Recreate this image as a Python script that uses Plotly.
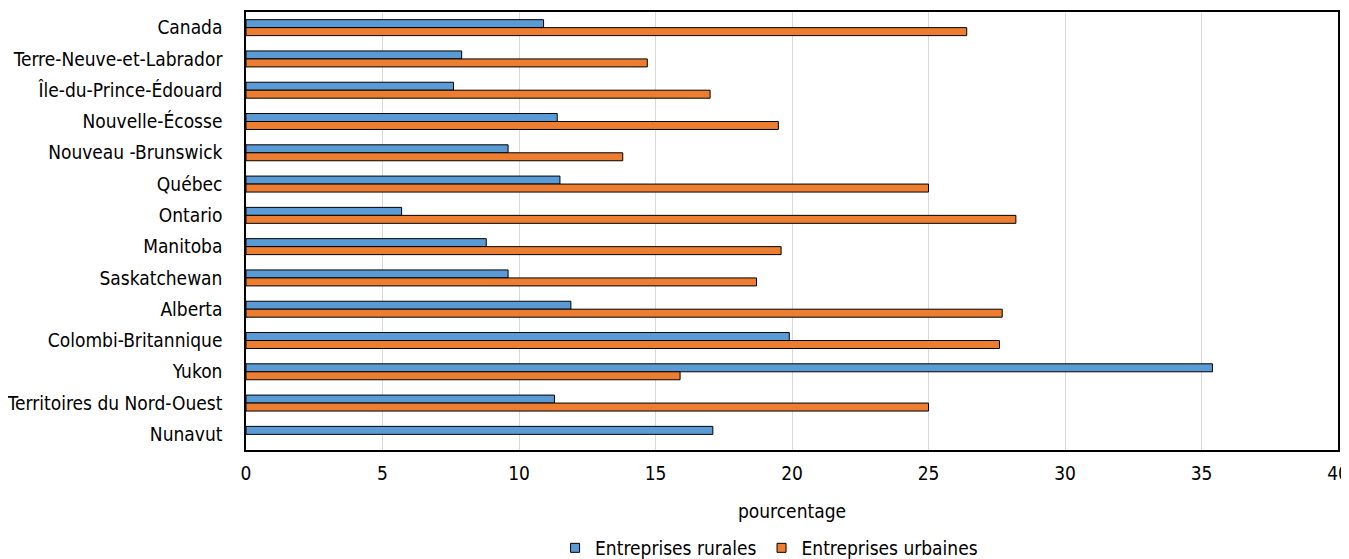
import plotly.graph_objects as go

categories = ["Canada", "Terre-Neuve-et-Labrador", "Île-du-Prince-Édouard", "Nouvelle-Écosse",
              "Nouveau -Brunswick", "Québec", "Ontario", "Manitoba", "Saskatchewan", "Alberta",
              "Colombi-Britannique", "Yukon", "Territoires du Nord-Ouest", "Nunavut"]
rural = [10.9, 7.9, 7.6, 11.4, 9.6, 11.5, 5.7, 8.8, 9.6, 11.9, 19.9, 35.4, 11.3, 17.1]
urbain = [26.4, 14.7, 17.0, 19.5, 13.8, 25.0, 28.2, 19.6, 18.7, 27.7, 27.6, 15.9, 25.0, None]
x_ticks = [0, 5, 10, 15, 20, 25, 30, 35, 40]
series_names = ["Entreprises rurales", "Entreprises urbaines"]
colors = ["#5B9BD5", "#ED7D31"]

FONT = "DejaVu Sans Condensed"
FS = 19

def f(size=FS):
    return dict(family=FONT, size=size, color="#000000")

fig = go.Figure()
for name, vals, col in zip(series_names, [rural, urbain], colors):
    fig.add_trace(go.Bar(
        y=categories, x=vals, orientation="h", name=name,
        marker=dict(color=col, line=dict(color="#000000", width=1)),
        showlegend=False,
    ))
# legend proxies with small square symbols
for name, col in zip(series_names, colors):
    fig.add_trace(go.Scatter(
        x=[None], y=[None], mode="markers", name=name,
        marker=dict(symbol="square", size=9, color=col, line=dict(color="#000000", width=1)),
        showlegend=True,
    ))

# page body has an 8px default margin, so the figure is sized to fit the window
fig.update_layout(
    width=1341, height=551,
    margin=dict(l=237.5, r=10.5, t=3.7, b=109),
    paper_bgcolor="white", plot_bgcolor="white",
    barmode="group", bargap=0.49, bargroupgap=0,
    font=f(),
    legend=dict(orientation="h", x=0.479, xanchor="center", xref="paper",
                y=0.02, yanchor="middle", yref="container",
                font=f(), itemwidth=30, tracegroupgap=0),
)
fig.update_xaxes(
    range=[0, 40], tickvals=x_ticks, ticktext=[str(v) for v in x_ticks],
    showgrid=True, gridcolor="#D9D9D9", gridwidth=1,
    showline=True, linecolor="#000000", linewidth=1.5, mirror=True,
    ticks="", zeroline=False, ticklabelstandoff=5, automargin=False,
    ticklabeloverflow="allow",
    title=dict(text="pourcentage", font=f(), standoff=22),
    tickfont=f(),
)
fig.update_yaxes(
    autorange="reversed", categoryorder="array", categoryarray=categories,
    showline=True, linecolor="#000000", linewidth=1.5, mirror=True,
    showgrid=False, ticks="", ticklabelstandoff=18, automargin=False,
    tickfont=f(),
)

fig.write_html("out.html")
